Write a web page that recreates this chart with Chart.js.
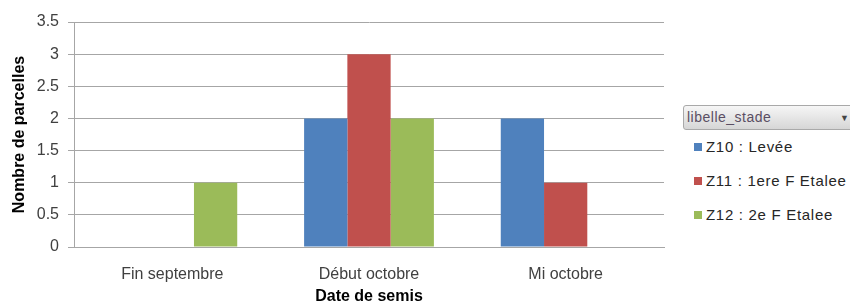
<!DOCTYPE html>
<html>
<head>
<meta charset="utf-8">
<script src="https://cdn.jsdelivr.net/npm/chart.js@4.4.0/dist/chart.umd.min.js"></script>
<style>
    body { margin: 0; background: #fff; font-family: "Liberation Sans", Arial, sans-serif; }
    #wrap { position: relative; width: 850px; height: 306px; overflow: hidden; }
    #chartBox { position: absolute; left: 0; top: 0; width: 680px; height: 306px; }
    #filtre {
        position: absolute; left: 683px; top: 105px; width: 172px; height: 25px;
        border: 1px solid #a9a9a9; border-radius: 3px; box-sizing: border-box;
        background: linear-gradient(#f6f6f6, #d6d6d6);
        font-size: 14px; letter-spacing: 0.5px; color: #5a4e63; line-height: 23px; padding-left: 3px;
    }
    #filtre span { position: absolute; left: 156px; top: 1px; font-size: 9px; color: #444; letter-spacing: 0; }
    .item { position: absolute; left: 694px; font-size: 15px; letter-spacing: 0.7px; line-height: 18px;
            color: #262626; white-space: nowrap; }
    .item i { display: inline-block; width: 8px; height: 8px; margin-right: 4px; vertical-align: 1px; }
</style>
</head>
<body>
<div id="wrap">
    <div id="chartBox"><canvas id="barChart"></canvas></div>
    <div id="filtre">libelle_stade<span>&#9660;</span></div>
</div>
<script>
// categories (date de semis)
var categories = ["Fin septembre", "Début octobre", "Mi octobre"];
// series (libelle_stade)
var seriesLabels = ["Z10 : Levée", "Z11 : 1ere F Etalee", "Z12 : 2e F Etalee"];
var seriesColors = ["#4F81BD", "#C0504D", "#9BBB59"];
var z10 = [0, 2, 2];
var z11 = [0, 3, 1];
var z12 = [1, 2, 0];
var yTicks = [0, 0.5, 1, 1.5, 2, 2.5, 3, 3.5];

var seriesValues = [z10, z11, z12];
var datasets = [];
for (var i = 0; i < seriesLabels.length; i++) {
    datasets.push({
        label: seriesLabels[i],
        data: seriesValues[i],
        backgroundColor: seriesColors[i],
        borderWidth: 0,
        categoryPercentage: 0.66,
        barPercentage: 1.0
    });
}

// legende a droite, comme dans le tableau croise
for (var j = 0; j < seriesLabels.length; j++) {
    var div = document.createElement("div");
    div.className = "item";
    div.style.top = (138 + j * 34) + "px";
    div.innerHTML = '<i style="background:' + seriesColors[j] + '"></i>' + seriesLabels[j];
    document.getElementById("wrap").appendChild(div);
}

var gridColor = "#a6a6a6";
var ctx = document.getElementById("barChart").getContext("2d");
new Chart(ctx, {
    type: "bar",
    data: { labels: categories, datasets: datasets },
    options: {
        responsive: true,
        maintainAspectRatio: false,
        animation: false,
        layout: { padding: { top: 22, right: 16, left: 0, bottom: 0 } },
        plugins: { legend: { display: false }, tooltip: { enabled: false } },
        scales: {
            x: {
                grid: { display: false },
                border: { display: true, color: gridColor, width: 1 },
                ticks: { color: "#404040", font: { family: "Liberation Sans", size: 16 }, padding: 10 },
                title: { display: true, text: "Date de semis", color: "#000",
                         font: { family: "Liberation Sans", size: 16, weight: "bold" }, padding: { top: 2, bottom: 0 } },
                afterFit: function(scale) { scale.height = 59; }
            },
            y: {
                min: 0,
                max: 3.5,
                afterBuildTicks: function(scale) {
                    scale.ticks = yTicks.map(function(v) { return { value: v }; });
                },
                grid: { color: gridColor, tickLength: 6, drawTicks: true },
                border: { display: true, color: gridColor },
                ticks: {
                    color: "#404040",
                    font: { family: "Liberation Sans", size: 16 },
                    padding: 9,
                    callback: function(v) { return String(v); }
                },
                title: { display: true, text: "Nombre de parcelles", color: "#000",
                         font: { family: "Liberation Sans", size: 16, weight: "bold" }, padding: { top: 10, bottom: 0 } },
                afterFit: function(scale) { scale.width = 74; }
            }
        }
    }
});
</script>
</body>
</html>
